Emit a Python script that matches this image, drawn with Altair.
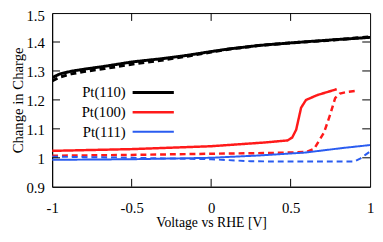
import altair as alt
import pandas as pd

# ---------------- data ----------------
series_names = ["Pt(110)", "Pt(100)", "Pt(111)"]
series_colors = ["#000000", "#ff1a1a", "#2a5cf0"]
series_widths = [3.0, 2.0, 1.2]

# Pt(110)
v110_solid = [-1.0, -0.95, -0.88, -0.8, -0.67, -0.5, -0.3, -0.15, 0.0, 0.11, 0.3, 0.5, 0.75, 1.0]
y110_solid = [1.277, 1.290, 1.299, 1.306, 1.316, 1.331, 1.343, 1.354, 1.367, 1.376, 1.388, 1.397, 1.407, 1.416]
v110_dash = [-1.0, -0.95, -0.88, -0.8, -0.67, -0.5, -0.3, -0.15, 0.0, 0.11, 0.3, 0.5, 0.75, 1.0]
y110_dash = [1.266, 1.279, 1.290, 1.298, 1.308, 1.323, 1.338, 1.351, 1.365, 1.375, 1.388, 1.397, 1.406, 1.418]

# Pt(100)
v100_solid = [-1.0, -0.5, 0.0, 0.34, 0.48, 0.51, 0.535, 0.566, 0.597, 0.67, 0.79]
y100_solid = [1.024, 1.030, 1.040, 1.053, 1.060, 1.070, 1.097, 1.173, 1.200, 1.217, 1.237]
v100_dash = [-1.0, -0.5, 0.0, 0.4, 0.6, 0.648, 0.71, 0.75, 0.78, 0.81, 0.86, 0.906]
y100_dash = [1.007, 1.010, 1.014, 1.017, 1.020, 1.031, 1.087, 1.151, 1.206, 1.222, 1.228, 1.231]

# Pt(111)
v111_solid = [-1.0, -0.5, 0.0, 0.3, 0.59, 0.83, 1.0]
y111_solid = [0.993, 0.995, 1.000, 1.008, 1.018, 1.034, 1.044]
v111_dash = [-1.0, -0.5, 0.0, 0.25, 0.5, 0.9, 0.94, 0.97, 1.0]
y111_dash = [1.004, 1.000, 0.995, 0.988, 0.987, 0.987, 0.998, 1.010, 1.022]

x_tick_values = [-1, -0.5, 0, 0.5, 1]
y_tick_values = [0.9, 1.0, 1.1, 1.2, 1.3, 1.4, 1.5]
x_inner_ticks = [-0.5, 0, 0.5]
y_inner_ticks = [1.0, 1.1, 1.2, 1.3, 1.4]

# ---------------- build tables ----------------
rows = []
def add(name, run, vs, ys):
    for v, y in zip(vs, ys):
        rows.append({"V": v, "Y": y, "series": name, "run": run, "key": name + run})

add("Pt(110)", "solid", v110_solid, y110_solid)
add("Pt(110)", "dashed", v110_dash, y110_dash)
add("Pt(100)", "solid", v100_solid, y100_solid)
add("Pt(100)", "dashed", v100_dash, y100_dash)
add("Pt(111)", "solid", v111_solid, y111_solid)
add("Pt(111)", "dashed", v111_dash, y111_dash)
df = pd.DataFrame(rows)

W, H = 324, 177
FONT = "Liberation Serif"

x_enc = alt.X(
    "V:Q",
    scale=alt.Scale(domain=[-1, 1], nice=False),
    axis=alt.Axis(
        values=x_tick_values, labelExpr="toString(datum.value)",
        title="Voltage vs RHE [V]", labelFlush=False, labelPadding=14,
        titleY=30, titleBaseline="top", titleFontSize=14,
    ),
)
y_enc = alt.Y(
    "Y:Q",
    scale=alt.Scale(domain=[0.9, 1.5], nice=False, zero=False),
    axis=alt.Axis(
        values=y_tick_values, labelExpr="toString(datum.value)",
        title="Change in Charge", labelPadding=8,
        labelOffset={"condition": {"test": "datum.value >= 1.45", "value": 3}, "value": 1},
        titleX=-35, titleY=H / 2, titleAngle=270, titleBaseline="middle", titleAlign="center",
    ),
)
color_enc = alt.Color("series:N", scale=alt.Scale(domain=series_names, range=series_colors), legend=None)
width_enc = alt.StrokeWidth("series:N", scale=alt.Scale(domain=series_names, range=series_widths), legend=None)
dash_enc = alt.StrokeDash("run:N", scale=alt.Scale(domain=["solid", "dashed"], range=[[1, 0], [6, 4]]), legend=None)

line_layers = [
    alt.Chart(df).transform_filter(alt.datum.series == s).mark_line(clip=True).encode(
        x=x_enc, y=y_enc, color=color_enc, strokeWidth=width_enc, strokeDash=dash_enc, detail="key:N"
    )
    for s in series_names
]

xt_df = pd.DataFrame({"V": x_inner_ticks})
yt_df = pd.DataFrame({"Y": y_inner_ticks})
tick_bottom = alt.Chart(xt_df).mark_rule(color="black").encode(x=x_enc, y=alt.value(H), y2=alt.value(H - 8))
tick_top = alt.Chart(xt_df).mark_rule(color="black").encode(x=x_enc, y=alt.value(0), y2=alt.value(8))
tick_left = alt.Chart(yt_df).mark_rule(color="black").encode(y=y_enc, x=alt.value(0), x2=alt.value(8))
tick_right = alt.Chart(yt_df).mark_rule(color="black").encode(y=y_enc, x=alt.value(W - 8), x2=alt.value(W))

main = alt.layer(*line_layers, tick_bottom, tick_top, tick_left, tick_right)

leg_df = pd.DataFrame({"series": series_names})
leg_y = alt.Y("series:N", scale=alt.Scale(type="point", domain=series_names, range=[81, 121], padding=0), axis=None)
leg_text = alt.Chart(leg_df).mark_text(align="right", baseline="middle", font=FONT, fontSize=15, color="black").encode(
    y=leg_y, x=alt.value(75), text="series:N"
)
leg_rule = alt.Chart(leg_df).mark_rule().encode(
    y=leg_y, x=alt.value(82), x2=alt.value(124), color=color_enc, strokeWidth=width_enc
)

chart = alt.layer(main, leg_text, leg_rule).resolve_scale(y="independent").properties(
    width=W, height=H,
    autosize=alt.AutoSizeParams(type="none"),
    padding={"top": 3, "left": 45, "right": 5, "bottom": 46},
).configure_view(stroke="black", strokeWidth=1).configure_axis(
    domainColor="black", ticks=False, tickSize=0, grid=False,
    labelFont=FONT, labelFontSize=15, labelColor="black",
    titleFont=FONT, titleFontSize=15, titleFontWeight="normal", titleColor="black",
)

chart.save("out.html", embed_options={"renderer": "svg", "actions": False})
